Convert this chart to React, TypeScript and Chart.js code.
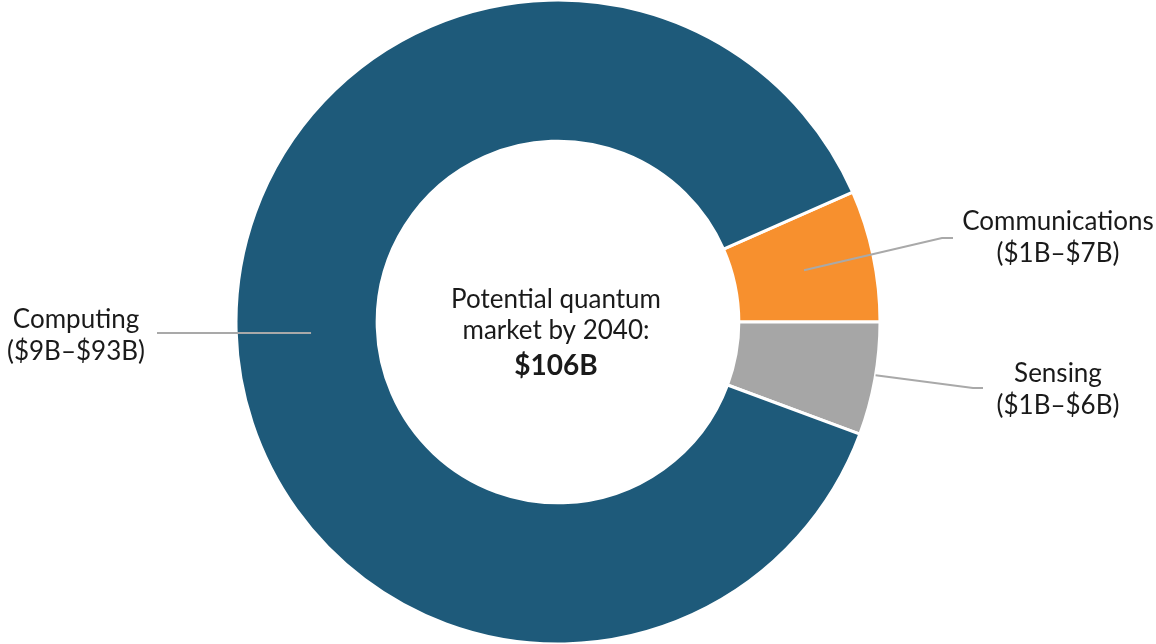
import React, { useEffect, useRef } from "react";
import { Chart, registerables } from "chart.js";

Chart.register(...registerables);

const categories = ["Communications", "Sensing", "Computing"];
const ranges = ["($1B–$7B)", "($1B–$6B)", "($9B–$93B)"];
const values = [7, 6, 93];
const colors = ["#f7902e", "#a6a6a6", "#1e5a7a"];
const centerLines = ["Potential quantum", "market by 2040:"];
const centerTotal = "$106B";

const FONT = "Lato, 'Noto Sans', sans-serif";

const labelPlugin = {
  id: "leaderLabels",
  afterDatasetsDraw(chart: any) {
    const ctx = chart.ctx;
    const meta = chart.getDatasetMeta(0);
    const cx = meta.data[0].x;
    const cy = meta.data[0].y;
    const arcs = meta.data.map((a: any) => a.getProps(["startAngle", "endAngle", "innerRadius", "outerRadius"], true));
    const layout = [
      { lx: 1058, ly: 222, sx: 953, sy: 238, ex: 942, ey: 238, rf: 0.5 },
      { lx: 1058, ly: 374, sx: 983, sy: 388, ex: 973, ey: 388, rf: 1.0 },
      { lx: 76, ly: 320, sx: 157, sy: 333, ex: 157, ey: 333, rf: 0.47 },
    ];
    ctx.save();
    ctx.strokeStyle = "#a9a9a9";
    ctx.lineWidth = 2;
    arcs.forEach((a: any, i: number) => {
      const L = layout[i];
      const mid = (a.startAngle + a.endAngle) / 2;
      let ang = mid;
      if (i === 2) {
        const r = a.innerRadius + (a.outerRadius - a.innerRadius) * L.rf;
        const px = cx - Math.sqrt(Math.max(r * r - (L.sy - cy) ** 2, 0));
        ctx.beginPath();
        ctx.moveTo(L.sx, L.sy);
        ctx.lineTo(px, L.sy);
        ctx.stroke();
        return;
      }
      if (i === 1) ang = mid - 0.012;
      const r = a.innerRadius + (a.outerRadius - a.innerRadius) * L.rf;
      const px = cx + Math.cos(ang) * r;
      const py = cy + Math.sin(ang) * r;
      ctx.beginPath();
      ctx.moveTo(L.sx, L.sy);
      ctx.lineTo(L.ex, L.ey);
      ctx.lineTo(px, py);
      ctx.stroke();
    });
    ctx.fillStyle = "#1a1a1a";
    ctx.textAlign = "center";
    ctx.textBaseline = "middle";
    ctx.font = `26px ${FONT}`;
    arcs.forEach((_: any, i: number) => {
      const L = layout[i];
      ctx.fillText(categories[i], L.lx, L.ly);
      ctx.fillText(ranges[i], L.lx, L.ly + 32);
    });
    ctx.fillText(centerLines[0], cx - 2, cy - 22);
    ctx.fillText(centerLines[1], cx - 2, cy + 9);
    ctx.font = `bold 28px ${FONT}`;
    ctx.fillText(centerTotal, cx - 2, cy + 44);
    ctx.restore();
  },
};

export default function App() {
  const ref = useRef<HTMLCanvasElement>(null);
  useEffect(() => {
    document.body.style.margin = "0";
    const chart = new Chart(ref.current!, {
      type: "doughnut",
      data: {
        labels: categories,
        datasets: [
          {
            data: values,
            backgroundColor: colors,
            borderColor: "#ffffff",
            borderWidth: 3,
          },
        ],
      },
      options: {
        responsive: false,
        animation: false,
        rotation: 90 - (values[0] / values.reduce((s, v) => s + v, 0)) * 360,
        radius: 322,
        cutout: 180,
        layout: { padding: { left: 0, right: 40, top: 0, bottom: 0 } },
        plugins: { legend: { display: false }, tooltip: { enabled: false } },
      },
      plugins: [labelPlugin],
    });
    return () => chart.destroy();
  }, []);
  return (
    <div style={{ width: 1156, height: 644 }}>
      <canvas ref={ref} width={1156} height={644} style={{ display: "block" }} />
    </div>
  );
}
